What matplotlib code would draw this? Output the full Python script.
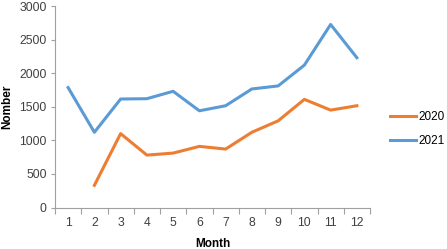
import matplotlib.pyplot as plt
import numpy as np

months = [1, 2, 3, 4, 5, 6, 7, 8, 9, 10, 11, 12]
y2020 = [np.nan, 330, 1100, 780, 810, 910, 870, 1120, 1290, 1610, 1450, 1515]
y2021 = [1785, 1120, 1615, 1620, 1730, 1440, 1515, 1765, 1810, 2120, 2725, 2230]
yticks = [0, 500, 1000, 1500, 2000, 2500, 3000]

plt.rcParams['font.family'] = ['Liberation Sans', 'DejaVu Sans']

fig = plt.figure(figsize=(4.47, 2.49), dpi=100)
ax = fig.add_axes([55 / 447, 41.5 / 249, 315 / 447, 201.5 / 249])

ax.plot(months, y2020, color='#ED7D31', lw=2.2, label='2020', solid_joinstyle='round')
ax.plot(months, y2021, color='#5B9BD5', lw=2.2, label='2021', solid_joinstyle='round')

ax.set_xlim(0.5, 12.5)
ax.set_ylim(0, 3000)
ax.set_yticks(yticks)
ax.set_xticks(np.arange(0.5, 13, 1))
ax.set_xticklabels([])
ax.set_xticks(months, minor=True)
ax.set_xticklabels([str(m) for m in months], minor=True)
ax.tick_params(axis='x', which='major', length=4, color='#a0a0a0', direction='out')
ax.tick_params(axis='x', which='minor', length=0, pad=7, labelsize=8.8, labelcolor='#404040')
ax.tick_params(axis='y', length=3, color='#a0a0a0', labelsize=8.8, labelcolor='#404040', pad=3)

for s in ['top', 'right']:
    ax.spines[s].set_visible(False)
for s in ['left', 'bottom']:
    ax.spines[s].set_color('#a0a0a0')
    ax.spines[s].set_linewidth(0.8)

ax.set_xlabel('Month', fontweight='bold', fontsize=8.5, labelpad=6)
ax.set_ylabel('Nomber', fontweight='bold', fontsize=8.5, labelpad=4)

ax.legend(loc='center left', bbox_to_anchor=(1.05, 0.39), frameon=False, fontsize=8.5,
          handlelength=2.2, handletextpad=0.2, labelspacing=1.0, borderaxespad=0)

plt.savefig('out.png', dpi=100)
